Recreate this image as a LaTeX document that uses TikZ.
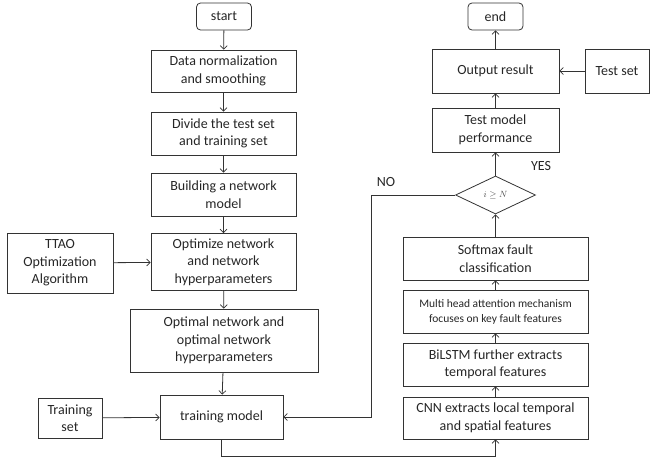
\documentclass[tikz,border=0pt]{standalone}
\usepackage{fontspec}
\setmainfont{Carlito}
\usetikzlibrary{shapes.geometric,arrows.meta}

\begin{document}
\begin{tikzpicture}[x = 1pt, y = -1pt, line width = 0.8pt, draw = black!80,
		box/.style = {draw = black!80, align = center, inner sep = 1pt,
			text = black!85, font = \fontsize{14}{17.5}\selectfont},
		term/.style = {box, rounded corners = 4pt, minimum width = 55, minimum height = 27},
		arr/.style = {-{Straight Barb[length = 3.5pt, width = 7pt, line width = 0.7pt]}}]
	\useasboundingbox (0, 0) rectangle (654, 461) ;
	% left column
	\node [term] (start) at (224, 16.5) {start} ;
	\node [box, minimum width = 145, minimum height = 42] (norm) at (223.5, 71)
		{Data normalization\\and smoothing} ;
	\node [box, minimum width = 145, minimum height = 43] (divide) at (223.5, 133.5)
		{Divide the test set\\and training set} ;
	\node [box, minimum width = 145, minimum height = 43] (build) at (223.5, 194.5)
		{Building a network\\model} ;
	\node [box, minimum width = 145, minimum height = 57] (optim) at (223.5, 262)
		{Optimize network\\and network\\hyperparameters} ;
	\node [box, minimum width = 106, minimum height = 60] (ttao) at (60, 263)
		{TTAO\\Optimization\\Algorithm} ;
	\node [box, minimum width = 188, minimum height = 63] (optimal) at (224, 340.5)
		{Optimal network and\\optimal network\\hyperparameters} ;
	\node [box, minimum width = 123, minimum height = 44] (train) at (221.5, 417)
		{training model} ;
	\node [box, minimum width = 64, minimum height = 40] (trainset) at (70, 418)
		{Training\\set} ;
	% right column
	\node [box, minimum width = 185, minimum height = 42] (cnn) at (495.5, 418)
		{CNN extracts local temporal\\and spatial features} ;
	\node [box, minimum width = 185, minimum height = 43] (bilstm) at (495.5, 364.5)
		{BiLSTM further extracts\\temporal features} ;
	\node [box, minimum width = 185, minimum height = 43,
		font = \fontsize{11.5}{15}\selectfont] (mha) at (495.5, 311.5)
		{Multi head attention mechanism\\focuses on key fault features} ;
	\node [box, minimum width = 185, minimum height = 43] (softmax) at (495.5, 258.5)
		{Softmax fault\\classification} ;
	\node [draw = black!80, shape = diamond, inner sep = 0pt, minimum width = 80,
		minimum height = 38, text = black!70, font = \fontsize{9}{10}\selectfont]
		(judge) at (495.5, 195) {$i \geq N$} ;
	\node [box, minimum width = 127, minimum height = 44] (testperf) at (495.5, 130)
		{Test model\\performance} ;
	\node [box, minimum width = 127, minimum height = 44] (output) at (495.5, 71)
		{Output result} ;
	\node [box, minimum width = 64, minimum height = 44] (testset) at (617, 71)
		{Test set} ;
	\node [term] (stop) at (495.5, 16.5) {end} ;
	\node [font = \fontsize{14}{17}\selectfont, text = black!85] (yes) at (541, 166) {YES} ;
	\node [font = \fontsize{14}{17}\selectfont, text = black!85] (no) at (386, 182) {NO} ;
	\coordinate (loop) at (371, 195) ;
	% connectors
	\draw [arr] (start) -- (norm) ;
	\draw [arr] (norm) -- (divide) ;
	\draw [arr] (divide) -- (build) ;
	\draw [arr] (build) -- (optim) ;
	\draw [arr] (ttao) -- (optim) ;
	\draw [arr] (optim) -- (optimal) ;
	\draw [arr] (optimal) -- (train) ;
	\draw [arr] (trainset) -- (train) ;
	\draw [arr] (train.south) -- ++(0, 17) -| (cnn.south) ;
	\draw [arr] (cnn) -- (bilstm) ;
	\draw [arr] (bilstm) -- (mha) ;
	\draw [arr] (mha) -- (softmax) ;
	\draw [arr] (softmax) -- (judge) ;
	\draw [arr] (judge) -- (testperf) ;
	\draw [arr] (judge.west) -- (loop) |- (train.east) ;
	\draw [arr] (testperf) -- (output) ;
	\draw [arr] (testset) -- (output) ;
	\draw [arr] (output) -- (stop) ;
\end{tikzpicture}
\end{document}
